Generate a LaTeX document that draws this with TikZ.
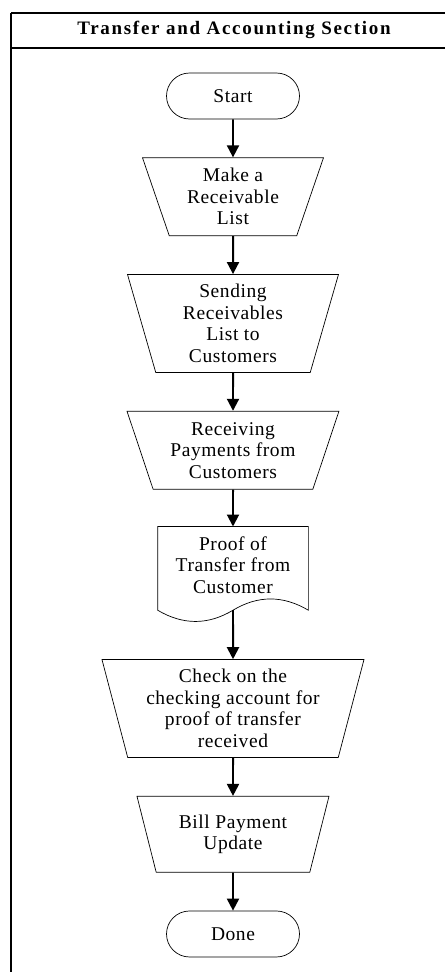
\documentclass[tikz,border=0pt]{standalone}
\usepackage{fontspec}
\setmainfont{Liberation Serif}
\newfontfamily\flowfont[LetterSpace=3]{Liberation Serif}
\newfontfamily\headfont[LetterSpace=9]{Liberation Serif}
\usetikzlibrary{arrows.meta, shapes.geometric, calc, positioning}
\tikzset{
  % Flow arrow style
  farr/.style={
    line width = 0.7mm,
    -{Triangle[length=12pt,width=12pt]}
  },
}

\begin{document}
\begin{tikzpicture}
          [x=1pt, y=-1pt
          , txt/.style={font=\flowfont\fontsize{19.5}{21.5}\selectfont
                       , align=center, line width=0.7pt}
          , term/.style={txt, draw, rounded corners=23pt
                        , minimum width=133pt, minimum height=46pt}
          , manual/.style={txt, draw, trapezium, shape border rotate=180
                          , trapezium stretches body, inner sep=1pt}
          ]
          \useasboundingbox (0,0) rectangle (445,972);

          % swimlane frame
          \draw[line width=1.2pt] (11,13) -- (445,13);
          \draw[line width=1.2pt] (11,48) -- (445,48);
          \draw[line width=1.6pt] (11,13) -- (11,972);
          \node (title) at (234,30)
                {\headfont\bfseries\fontsize{19}{21}\selectfont Transfer and Accounting Section};

          \node (start) [term] at (233,96) {Start};

          \node (list) [manual
                      , below=38pt of start
                      , minimum width=181pt, minimum height=78pt
                      , trapezium left angle=65.5, trapezium right angle=65.5]
                            {Make a\\Receivable\\List};
          \node (send) [manual
                      , below=38pt of list
                      , minimum width=211pt, minimum height=98pt
                      , trapezium left angle=70.6, trapezium right angle=70.6]
                            {Sending\\Receivables\\List to\\Customers};
          \node (recv) [manual
                      , below=38pt of send
                      , minimum width=212pt, minimum height=78pt
                      , trapezium left angle=65.8, trapezium right angle=65.8]
                            {Receiving\\Payments from\\Customers};

          \node (proof) [txt
                       , below=37pt of recv
                       , minimum width=150pt, minimum height=76pt]
                            {Proof of\\Transfer from\\Customer};
          \draw[line width=0.7pt] ($(proof.south west)+(0,7)$) -- (proof.north west)
                -- (proof.north east) -- ($(proof.south east)+(0,7)$)
                .. controls ($(proof.south)+(50,-8)$) and ($(proof.south)+(25,-8)$)
                .. ($(proof.south)+(0,7)$)
                .. controls ($(proof.south)+(-25,22)$) and ($(proof.south)+(-50,22)$)
                .. ($(proof.south west)+(0,7)$);
          \coordinate (proofend) at ($(proof.south)+(0,7)$);

          \node (check) [manual
                       , below=56pt of proof
                       , minimum width=262pt, minimum height=98pt
                       , trapezium left angle=72.2, trapezium right angle=72.2]
                            {Check on the\\checking account for\\proof of transfer\\received};
          \node (bill) [manual
                      , below=38pt of check
                      , minimum width=192pt, minimum height=76pt
                      , trapezium left angle=65, trapezium right angle=65]
                            {Bill Payment\\Update};
          \node (done) [term, below=38pt of bill] {Done};

          \draw[farr] (start) -- (list);
          \draw[farr] (list) -- (send);
          \draw[farr] (send) -- (recv);
          \draw[farr] (recv) -- (proof);
          \draw[farr] (proofend) -- (check);
          \draw[farr] (check) -- (bill);
          \draw[farr] (bill) -- (done);
      \end{tikzpicture}
\end{document}
